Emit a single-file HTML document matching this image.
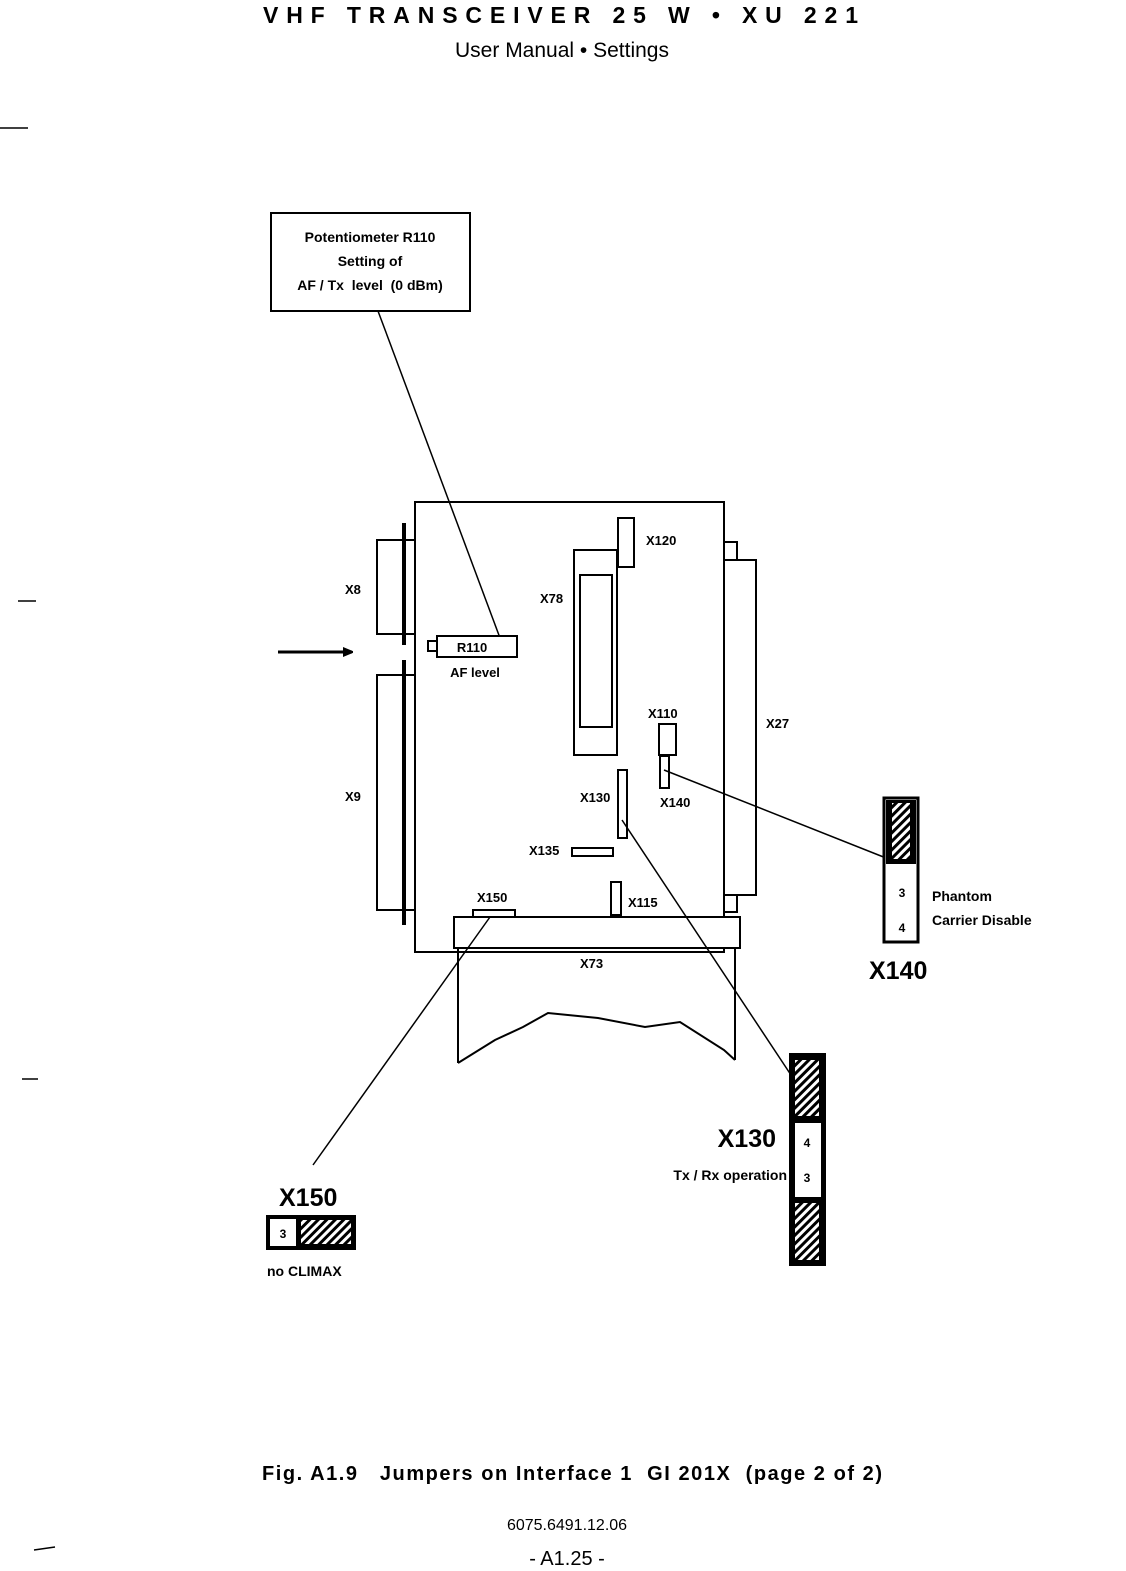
<!DOCTYPE html>
<html><head><meta charset="utf-8"><style>
html,body{margin:0;padding:0;background:#fff}
svg{display:block}
text{font-family:"Liberation Sans",sans-serif;fill:#000;white-space:pre}
</style></head><body>
<svg width="1126" height="1571" viewBox="0 0 1126 1571" xmlns="http://www.w3.org/2000/svg">
<defs>
<pattern id="h" width="6" height="6" patternUnits="userSpaceOnUse" patternTransform="rotate(45)">
<rect width="6" height="6" fill="#fff"/><rect width="3" height="6" fill="#000"/>
</pattern>
<marker id="ar" markerWidth="10" markerHeight="10" refX="9" refY="5" orient="auto" markerUnits="userSpaceOnUse"><path d="M0,0 L12,5 L0,10 Z" fill="#000"/></marker>
</defs>
<text x="263" y="23" font-size="23" font-weight="bold" textLength="595" lengthAdjust="spacing">VHF TRANSCEIVER 25 W • XU 221</text>
<text x="562" y="57" font-size="21" text-anchor="middle">User Manual • Settings</text>

<g fill="none" stroke="#000" stroke-width="2">
<rect x="271" y="213" width="199" height="98"/>
<line x1="378" y1="311" x2="503" y2="646" stroke-width="1.5"/>
<line x1="278" y1="652" x2="352" y2="652" marker-end="url(#ar)" stroke-width="3"/>
<rect x="415" y="502" width="309" height="450"/>
<rect x="377" y="540" width="38" height="94"/>
<rect x="377" y="675" width="38" height="235"/>
<line x1="404" y1="523" x2="404" y2="645" stroke-width="4"/>
<line x1="404" y1="660" x2="404" y2="925" stroke-width="4"/>
<rect x="724" y="560" width="32" height="335"/>
<rect x="724" y="542" width="13" height="18"/>
<rect x="724" y="895" width="13" height="17"/>
<rect x="437" y="636" width="80" height="21" fill="#fff"/>
<rect x="428" y="641" width="9" height="10"/>
<rect x="574" y="550" width="43" height="205"/>
<rect x="580" y="575" width="32" height="152"/>
<rect x="618" y="518" width="16" height="49"/>
<rect x="659" y="724" width="17" height="31"/>
<rect x="660" y="756" width="9" height="32"/>
<rect x="618" y="770" width="9" height="68"/>
<rect x="572" y="848" width="41" height="8"/>
<rect x="611" y="882" width="10" height="33"/>
<rect x="473" y="910" width="42" height="8"/>
<rect x="454" y="917" width="286" height="31" fill="#fff"/>
<line x1="458" y1="948" x2="458" y2="1063"/>
<line x1="735" y1="948" x2="735" y2="1060"/>
<polyline points="458,1063 495,1040 523,1027 548,1013 598,1018 645,1027 680,1022 724,1050 735,1060"/>
<line x1="664" y1="770" x2="886" y2="858" stroke-width="1.5"/>
<line x1="622" y1="820" x2="791" y2="1075" stroke-width="1.5"/>
<line x1="490" y1="917" x2="313" y2="1165" stroke-width="1.5"/>
</g>
<text x="370" y="242" font-size="14" font-weight="bold" text-anchor="middle">Potentiometer R110</text>
<text x="370" y="266" font-size="14" font-weight="bold" text-anchor="middle">Setting of</text>
<text x="370" y="290" font-size="14" font-weight="bold" text-anchor="middle">AF / Tx  level  (0 dBm)</text>
<g font-size="13" font-weight="bold">
<text x="472" y="652" text-anchor="middle">R110</text>
<text x="475" y="677" text-anchor="middle">AF level</text>
<text x="345" y="594">X8</text>
<text x="345" y="801">X9</text>
<text x="646" y="545">X120</text>
<text x="540" y="603">X78</text>
<text x="648" y="718">X110</text>
<text x="766" y="728">X27</text>
<text x="580" y="802">X130</text>
<text x="660" y="807">X140</text>
<text x="529" y="855">X135</text>
<text x="477" y="902">X150</text>
<text x="628" y="907">X115</text>
<text x="580" y="968">X73</text>
</g>
<rect x="884" y="798" width="34" height="144" fill="#fff" stroke="#000" stroke-width="3"/>
<rect x="886" y="800" width="30" height="64" fill="#000"/>
<rect x="892" y="803" width="18" height="56" fill="url(#h)"/>
<text x="902" y="897" font-size="12" font-weight="bold" text-anchor="middle">3</text>
<text x="902" y="932" font-size="12" font-weight="bold" text-anchor="middle">4</text>
<text x="932" y="901" font-size="14" font-weight="bold">Phantom</text>
<text x="932" y="925" font-size="14" font-weight="bold">Carrier Disable</text>
<text x="869" y="979" font-size="25" font-weight="bold">X140</text>
<rect x="789" y="1053" width="37" height="213" fill="#000"/>
<rect x="795" y="1060" width="24" height="56" fill="url(#h)"/>
<rect x="795" y="1123" width="26" height="74" fill="#fff"/>
<rect x="795" y="1203" width="24" height="57" fill="url(#h)"/>
<text x="807" y="1147" font-size="12" font-weight="bold" text-anchor="middle">4</text>
<text x="807" y="1182" font-size="12" font-weight="bold" text-anchor="middle">3</text>
<text x="776" y="1147" font-size="25" font-weight="bold" text-anchor="end">X130</text>
<text x="787" y="1180" font-size="14" font-weight="bold" text-anchor="end">Tx / Rx operation</text>
<text x="279" y="1206" font-size="25" font-weight="bold">X150</text>
<rect x="266" y="1215" width="90" height="35" fill="#000"/>
<rect x="270" y="1219" width="26" height="27" fill="#fff"/>
<rect x="301" y="1220" width="50" height="24" fill="url(#h)"/>
<text x="283" y="1238" font-size="12" font-weight="bold" text-anchor="middle">3</text>
<text x="267" y="1276" font-size="14" font-weight="bold">no CLIMAX</text>

<text x="262" y="1480" font-size="20" font-weight="bold" textLength="620" lengthAdjust="spacing">Fig. A1.9   Jumpers on Interface 1  GI 201X  (page 2 of 2)</text>
<text x="567" y="1530" font-size="16" text-anchor="middle">6075.6491.12.06</text>
<text x="567" y="1565" font-size="20" text-anchor="middle">- A1.25 -</text>
<g stroke="#000" stroke-width="1.5">
<line x1="0" y1="128" x2="28" y2="128"/>
<line x1="18" y1="601" x2="36" y2="601"/>
<line x1="22" y1="1079" x2="38" y2="1079"/>
<line x1="34" y1="1550" x2="55" y2="1547"/>
</g>
</svg>
</body></html>
